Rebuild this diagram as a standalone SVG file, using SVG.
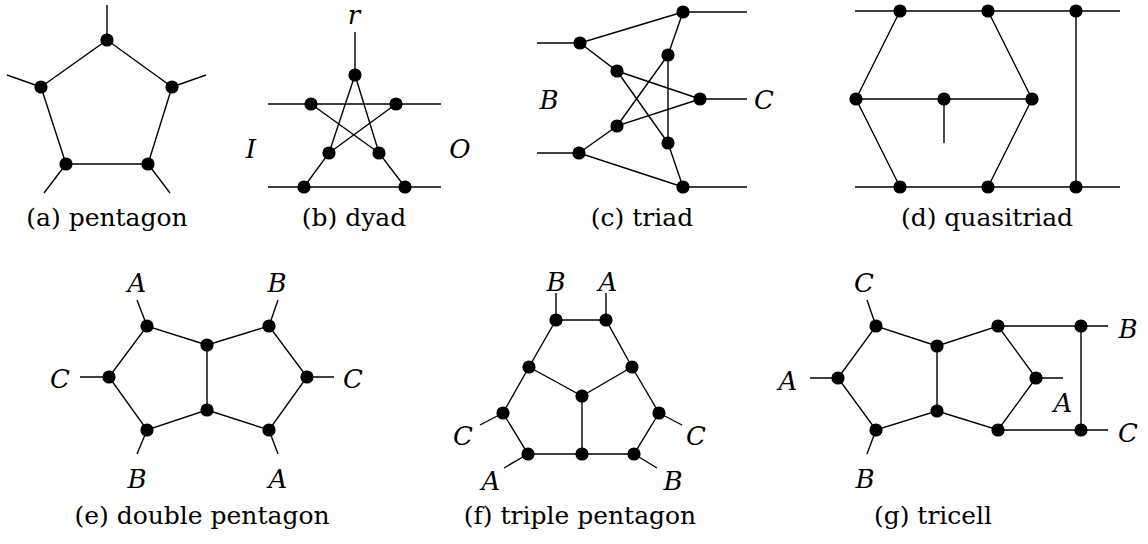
<svg xmlns="http://www.w3.org/2000/svg" width="1148" height="544" viewBox="0 0 1148 544">
<style>
.e{stroke:#000;stroke-width:1.4;fill:none;stroke-linecap:butt}
.n{fill:#000}
.cap{font-family:"DejaVu Serif","Liberation Serif",serif;font-size:25px;text-anchor:middle;fill:#000}
.lb{font-family:"DejaVu Serif","Liberation Serif",serif;font-style:italic;font-size:26px;text-anchor:middle;fill:#000}
</style>
<rect width="1148" height="544" fill="#fff"/>
<defs><circle id="d" r="6.6" class="n"/></defs>

<!-- (a) pentagon -->
<g id="pentagon">
<g class="e">
<path d="M107,40 L41,87 L66,164 L148,164 L172,87 Z"/>
<path d="M107,40 V5 M41,87 L7,75 M172,87 L206,75 M66,164 L44,193 M148,164 L170,193"/>
</g>
<use href="#d" x="107" y="40"/><use href="#d" x="41" y="87"/><use href="#d" x="172" y="87"/><use href="#d" x="66" y="164"/><use href="#d" x="148" y="164"/>
<text class="cap" x="107" y="226">(a) pentagon</text>
</g>

<!-- (b) dyad -->
<g id="dyad">
<g class="e">
<path d="M268,104 H441 M268,187 H441 M355,32 V75"/>
<path d="M355,75 L329,153 L304,187 M355,75 L379,153 L405,187 M311,104 L379,153 M396,104 L329,153"/>
</g>
<use href="#d" x="355" y="75"/><use href="#d" x="311" y="104"/><use href="#d" x="396" y="104"/><use href="#d" x="329" y="153"/><use href="#d" x="379" y="153"/><use href="#d" x="304" y="187"/><use href="#d" x="405" y="187"/>
<text class="lb" x="354" y="24">r</text>
<text class="lb" x="251" y="158">I</text>
<text class="lb" x="460" y="158">O</text>
<text class="cap" x="354" y="226">(b) dyad</text>
</g>

<!-- (c) triad -->
<g id="triad">
<g class="e">
<path d="M537,43 H580 M537,153 H579 M683,12 H747 M683,187 H747 M700,99 H747"/>
<path d="M580,43 L683,12 M580,43 L617,71 L700,99 M617,71 L668,143 M668,55 L683,12 M668,55 V143 M668,55 L617,126 L700,99 M617,126 L579,153 L683,187 M668,143 L683,187"/>
</g>
<use href="#d" x="683" y="12"/><use href="#d" x="580" y="43"/><use href="#d" x="617" y="71"/><use href="#d" x="668" y="55"/><use href="#d" x="700" y="99"/><use href="#d" x="617" y="126"/><use href="#d" x="668" y="143"/><use href="#d" x="579" y="153"/><use href="#d" x="683" y="187"/>
<text class="lb" x="549" y="109">B</text>
<text class="lb" x="764" y="109">C</text>
<text class="cap" x="642" y="226">(c) triad</text>
</g>

<!-- (d) quasitriad -->
<g id="quasitriad">
<g class="e">
<path d="M855,11 H1120 M855,187 H1120 M856,99 H1032 M944,99 V143 M1076,11 V187"/>
<path d="M900,11 L856,99 L900,187 M988,11 L1032,99 L988,187"/>
</g>
<use href="#d" x="900" y="11"/><use href="#d" x="988" y="11"/><use href="#d" x="1076" y="11"/><use href="#d" x="856" y="99"/><use href="#d" x="944" y="99"/><use href="#d" x="1032" y="99"/><use href="#d" x="900" y="187"/><use href="#d" x="988" y="187"/><use href="#d" x="1076" y="187"/>
<text class="cap" x="987" y="226">(d) quasitriad</text>
</g>

<!-- (e) double pentagon -->
<g id="double-pentagon">
<g class="e">
<path d="M207,345 L147,326 L109,377 L147,430 L207,410 Z M207,345 L269,326 L307,377 L269,430 L207,410"/>
<path d="M147,326 L137,300 M109,377 H80 M147,430 L137,454 M269,326 L278,300 M307,377 H334 M269,430 L278,454"/>
</g>
<use href="#d" x="147" y="326"/><use href="#d" x="109" y="377"/><use href="#d" x="147" y="430"/><use href="#d" x="207" y="345"/><use href="#d" x="207" y="410"/><use href="#d" x="269" y="326"/><use href="#d" x="307" y="377"/><use href="#d" x="269" y="430"/>
<text class="lb" x="137" y="292">A</text>
<text class="lb" x="277" y="292">B</text>
<text class="lb" x="60" y="388">C</text>
<text class="lb" x="353" y="388">C</text>
<text class="lb" x="137" y="488">B</text>
<text class="lb" x="278" y="488">A</text>
<text class="cap" x="202" y="524">(e) double pentagon</text>
</g>

<!-- (f) triple pentagon -->
<g id="triple-pentagon">
<g class="e">
<path d="M556,320 H606 L632,367 L659,413 L634,454 H528 L503,413 L529,367 Z"/>
<path d="M529,367 L582,396 L632,367 M582,396 V454"/>
<path d="M556,320 V293 M606,320 V293 M503,413 L480,425 M659,413 L682,425 M528,454 L504,468 M634,454 L657,468"/>
</g>
<use href="#d" x="556" y="320"/><use href="#d" x="606" y="320"/><use href="#d" x="529" y="367"/><use href="#d" x="632" y="367"/><use href="#d" x="582" y="396"/><use href="#d" x="503" y="413"/><use href="#d" x="659" y="413"/><use href="#d" x="528" y="454"/><use href="#d" x="582" y="454"/><use href="#d" x="634" y="454"/>
<text class="lb" x="556" y="291">B</text>
<text class="lb" x="608" y="291">A</text>
<text class="lb" x="463" y="445">C</text>
<text class="lb" x="696" y="445">C</text>
<text class="lb" x="491" y="490">A</text>
<text class="lb" x="673" y="490">B</text>
<text class="cap" x="580" y="524">(f) triple pentagon</text>
</g>

<!-- (g) tricell -->
<g id="tricell">
<g class="e">
<path d="M937,346 L876,326 L838,378 L876,430 L937,411 Z M937,346 L998,326 L1036,378 L998,430 L937,411"/>
<path d="M998,326 H1108 M998,430 H1108 M1081,326 V430 M1036,378 H1063"/>
<path d="M876,326 L867,300 M838,378 H810 M876,430 L867,454"/>
</g>
<use href="#d" x="876" y="326"/><use href="#d" x="838" y="378"/><use href="#d" x="876" y="430"/><use href="#d" x="937" y="346"/><use href="#d" x="937" y="411"/><use href="#d" x="998" y="326"/><use href="#d" x="1036" y="378"/><use href="#d" x="998" y="430"/><use href="#d" x="1081" y="326"/><use href="#d" x="1081" y="430"/>
<text class="lb" x="864" y="292">C</text>
<text class="lb" x="788" y="390">A</text>
<text class="lb" x="865" y="488">B</text>
<text class="lb" x="1128" y="338">B</text>
<text class="lb" x="1128" y="442">C</text>
<text class="lb" x="1063" y="412">A</text>
<text class="cap" x="933" y="524">(g) tricell</text>
</g>
</svg>
